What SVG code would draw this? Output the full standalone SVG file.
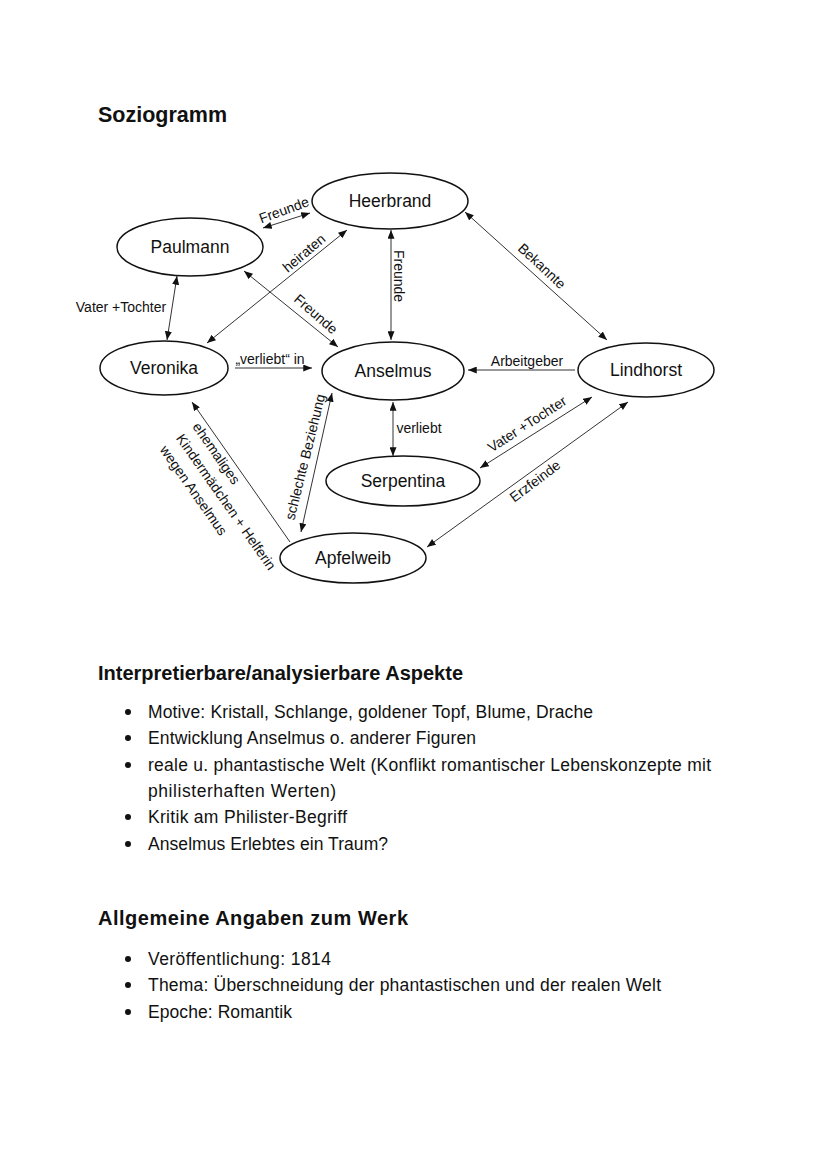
<svg xmlns="http://www.w3.org/2000/svg" width="828" height="1171" viewBox="0 0 828 1171">
<defs>
<marker id="ah" viewBox="0 0 10 8" refX="10" refY="4" markerWidth="9" markerHeight="7" markerUnits="userSpaceOnUse" orient="auto-start-reverse">
<path d="M0,0 L10,4 L0,8 Z" fill="#111"/>
</marker>
<style>
text{font-family:"Liberation Sans",Arial,sans-serif;fill:#111}
.node ellipse{fill:#fff;stroke:#111;stroke-width:1.5}
.node text{font-size:17.5px;text-anchor:middle}
.c line{stroke:#333;stroke-width:1}
.bi{marker-start:url(#ah);marker-end:url(#ah)}
.uni{marker-end:url(#ah)}
.lbl{font-size:14px;text-anchor:middle}
.h1{font-size:21.5px;font-weight:bold}
.h2{font-size:20px;font-weight:bold}
.b{font-size:17.5px}
</style>
</defs>
<rect width="828" height="1171" fill="#fff"/>
<text class="h1" x="98" y="122">Soziogramm</text>

<g id="connectors" class="c">
<line class="bi" x1="263" y1="228" x2="310" y2="213"/>
<line class="bi" x1="177" y1="276" x2="167" y2="340"/>
<line class="bi" x1="207" y1="343" x2="347" y2="230"/>
<line class="bi" x1="244" y1="271" x2="338" y2="347"/>
<line class="bi" x1="391" y1="230" x2="391" y2="340"/>
<line class="uni" x1="235" y1="368" x2="312" y2="368"/>
<line class="bi" x1="465" y1="212" x2="607" y2="340"/>
<line class="uni" x1="575" y1="370" x2="468" y2="370"/>
<line class="bi" x1="393" y1="402" x2="393" y2="456"/>
<line class="bi" x1="592" y1="397" x2="480" y2="468"/>
<line class="bi" x1="628" y1="402" x2="427" y2="547"/>
<line class="bi" x1="332" y1="393" x2="301" y2="532"/>
<line class="uni" x1="290" y1="542" x2="192" y2="402"/>
</g>

<g id="labels">
<text class="lbl" transform="translate(284,210) rotate(-20)" dy="0.35em">Freunde</text>
<text class="lbl" x="121" y="312">Vater +Tochter</text>
<text class="lbl" transform="translate(304,253) rotate(-40)" dy="0.35em">heiraten</text>
<text class="lbl" transform="translate(316,314) rotate(41)" dy="0.35em">Freunde</text>
<text class="lbl" transform="translate(399,276) rotate(90)" dy="0.35em">Freunde</text>
<text class="lbl" x="270" y="364">„verliebt“ in</text>
<text class="lbl" transform="translate(542,266) rotate(43)" dy="0.35em">Bekannte</text>
<text class="lbl" x="527" y="366">Arbeitgeber</text>
<text class="lbl" x="419" y="433">verliebt</text>
<text class="lbl" transform="translate(527,424) rotate(-33)" dy="0.35em">Vater +Tochter</text>
<text class="lbl" transform="translate(535,481) rotate(-37)" dy="0.35em">Erzfeinde</text>
<text class="lbl" transform="translate(305,457) rotate(-76)" dy="0.35em">schlechte Beziehung</text>
<text class="lbl" style="text-anchor:start" transform="translate(196,424) rotate(55)"><tspan x="0" dy="0.35em">ehemaliges</tspan><tspan x="0" dy="20">Kindermädchen + Helferin</tspan><tspan x="0" dy="20">wegen Anselmus</tspan></text>
</g>

<g id="heerbrand" class="node"><ellipse cx="390" cy="201" rx="78" ry="28"/><text x="390" y="207">Heerbrand</text></g>
<g id="paulmann" class="node"><ellipse cx="190" cy="247" rx="73" ry="29"/><text x="190" y="253">Paulmann</text></g>
<g id="veronika" class="node"><ellipse cx="164" cy="368" rx="64" ry="27"/><text x="164" y="374">Veronika</text></g>
<g id="anselmus" class="node"><ellipse cx="393" cy="371" rx="71" ry="29"/><text x="393" y="377">Anselmus</text></g>
<g id="lindhorst" class="node"><ellipse cx="646" cy="370" rx="68" ry="27"/><text x="646" y="376">Lindhorst</text></g>
<g id="serpentina" class="node"><ellipse cx="403" cy="481" rx="77" ry="25"/><text x="403" y="487">Serpentina</text></g>
<g id="apfelweib" class="node"><ellipse cx="353" cy="558" rx="73" ry="25"/><text x="353" y="564">Apfelweib</text></g>

<g id="aspekte">
<text class="h2" x="98" y="680" textLength="365">Interpretierbare/analysierbare Aspekte</text>
<circle cx="128" cy="712" r="3" fill="#111"/><text class="b" x="148" y="718" textLength="445">Motive: Kristall, Schlange, goldener Topf, Blume, Drache</text>
<circle cx="128" cy="738" r="3" fill="#111"/><text class="b" x="148" y="744" textLength="328">Entwicklung Anselmus o. anderer Figuren</text>
<circle cx="128" cy="765" r="3" fill="#111"/><text class="b" x="148" y="771" textLength="563">reale u. phantastische Welt (Konflikt romantischer Lebenskonzepte mit</text>
<text class="b" x="148" y="797" textLength="188">philisterhaften Werten)</text>
<circle cx="128" cy="817" r="3" fill="#111"/><text class="b" x="148" y="823" textLength="199">Kritik am Philister-Begriff</text>
<circle cx="128" cy="844" r="3" fill="#111"/><text class="b" x="148" y="850" textLength="240">Anselmus Erlebtes ein Traum?</text>
</g>

<g id="angaben">
<text class="h2" x="98" y="925" textLength="310">Allgemeine Angaben zum Werk</text>
<circle cx="128" cy="959" r="3" fill="#111"/><text class="b" x="148" y="965" textLength="183">Veröffentlichung: 1814</text>
<circle cx="128" cy="985" r="3" fill="#111"/><text class="b" x="148" y="991" textLength="513">Thema: Überschneidung der phantastischen und der realen Welt</text>
<circle cx="128" cy="1012" r="3" fill="#111"/><text class="b" x="148" y="1018" textLength="144">Epoche: Romantik</text>
</g>
</svg>
